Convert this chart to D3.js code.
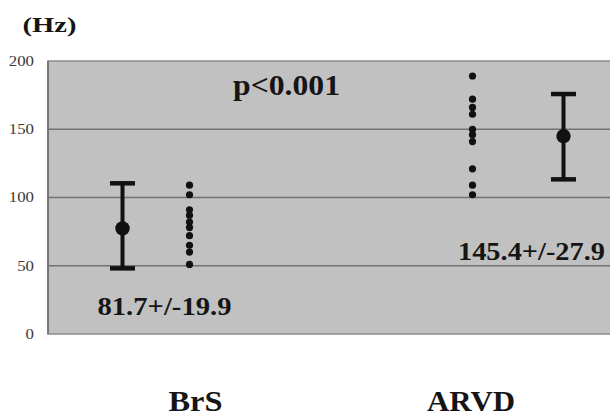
<!DOCTYPE html>
<html>
<head>
<meta charset="utf-8">
<script src="https://cdn.jsdelivr.net/npm/d3@7"></script>
<style>
  body { margin: 0; background: #fff; }
  svg { display: block; }
  text { font-family: "Liberation Serif", "Times New Roman", serif; }
</style>
</head>
<body>
<div id="chart-area"></div>
<script>
// data
const groups = ["BrS", "ARVD"];
const brsPoints = [109, 102, 91, 87, 82, 78, 72, 65, 60, 51];
const arvdPoints = [189, 172, 166, 161, 150, 146, 141, 121, 109, 102];
const means = [77.4, 145];
const lows = [48.1, 113.3];
const highs = [110.4, 175.8];
const meanLabels = ["81.7+/-19.9", "145.4+/-27.9"];
const yTicks = [0, 50, 100, 150, 200];
const pLabel = "p<0.001";
const unitLabel = "(Hz)";

let w = 610;
let h = 416;
let plotLeft = 48;
let plotTop = 61;
let plotBottom = 334;
let plotRight = 618;

let svg = d3.select("#chart-area")
    .append("svg")
    .attr("width", w)
    .attr("height", h);

let xScale = d3.scalePoint()
    .domain(groups)
    .range([plotLeft, 614])
    .padding(0.5);

let yScale = d3.scaleLinear()
    .domain([0, 200])
    .range([plotBottom, plotTop]);

// error bar sits left of the dots for BrS, right for ARVD
let barOffset = [-67, 91];

// plot background
svg.append("rect")
    .attr("x", plotLeft)
    .attr("y", plotTop)
    .attr("width", plotRight - plotLeft)
    .attr("height", plotBottom - plotTop)
    .attr("fill", "#c1c1c1")
    .attr("stroke", "#8c8c8c")
    .attr("stroke-width", 1.5);

svg.append("line")
    .attr("x1", plotLeft).attr("x2", plotLeft)
    .attr("y1", plotTop).attr("y2", plotBottom)
    .attr("stroke", "#6a6a6a")
    .attr("stroke-width", 1.5);

// grid lines
svg.selectAll(".grid")
    .data(yTicks.filter(d => d > 0 && d < 200))
    .enter()
    .append("line")
    .attr("class", "grid")
    .attr("x1", plotLeft)
    .attr("x2", plotRight)
    .attr("y1", d => yScale(d))
    .attr("y2", d => yScale(d))
    .attr("stroke", "#727272")
    .attr("stroke-width", 1.5);

// y axis labels
let yAxis = d3.axisLeft(yScale)
    .tickValues(yTicks)
    .tickSize(0)
    .tickPadding(14);

let yg = svg.append("g")
    .attr("transform", "translate(" + plotLeft + ",0)")
    .call(yAxis);
yg.select(".domain").remove();
yg.selectAll("text")
    .attr("font-family", "Liberation Serif, serif")
    .attr("font-size", 14)
    .attr("fill", "#3a3a3a")
    .attr("textLength", d => String(d).length * 8.4)
    .attr("lengthAdjust", "spacingAndGlyphs");

// scatter dots
let allPoints = [];
brsPoints.forEach(v => allPoints.push({ g: "BrS", v: v }));
arvdPoints.forEach(v => allPoints.push({ g: "ARVD", v: v }));

svg.selectAll(".pt")
    .data(allPoints)
    .enter()
    .append("circle")
    .attr("class", "pt")
    .attr("cx", d => xScale(d.g))
    .attr("cy", d => yScale(d.v))
    .attr("r", 3.6)
    .attr("fill", "#111");

// error bars
let bars = groups.map((g, i) => ({ g: g, i: i, mean: means[i], lo: lows[i], hi: highs[i] }));

let eb = svg.selectAll(".eb")
    .data(bars)
    .enter()
    .append("g")
    .attr("class", "eb")
    .attr("transform", d => "translate(" + (xScale(d.g) + barOffset[d.i]) + ",0)");

eb.append("line")
    .attr("x1", 0).attr("x2", 0)
    .attr("y1", d => yScale(d.hi))
    .attr("y2", d => yScale(d.lo))
    .attr("stroke", "#111")
    .attr("stroke-width", 4);

eb.append("line")
    .attr("x1", -12.5).attr("x2", 12.5)
    .attr("y1", d => yScale(d.hi))
    .attr("y2", d => yScale(d.hi))
    .attr("stroke", "#111")
    .attr("stroke-width", 4.5);

eb.append("line")
    .attr("x1", -12.5).attr("x2", 12.5)
    .attr("y1", d => yScale(d.lo))
    .attr("y2", d => yScale(d.lo))
    .attr("stroke", "#111")
    .attr("stroke-width", 4.5);

eb.append("circle")
    .attr("cx", 0)
    .attr("cy", d => yScale(d.mean))
    .attr("r", 7.2)
    .attr("fill", "#111");

// mean +/- sd labels
let labelPos = [{ dx: -25, yv: 13.9, len: 134 }, { dx: 59, yv: 54.2, len: 147 }];
svg.selectAll(".ml")
    .data(meanLabels)
    .enter()
    .append("text")
    .attr("class", "ml")
    .attr("x", (d, i) => xScale(groups[i]) + labelPos[i].dx)
    .attr("y", (d, i) => yScale(labelPos[i].yv))
    .attr("text-anchor", "middle")
    .attr("font-size", 25)
    .attr("font-weight", "bold")
    .attr("fill", "#151515")
    .attr("textLength", (d, i) => labelPos[i].len)
    .attr("lengthAdjust", "spacingAndGlyphs")
    .text(d => d);

// p value
svg.append("text")
    .attr("x", 286.5)
    .attr("y", 95)
    .attr("text-anchor", "middle")
    .attr("font-size", 30)
    .attr("font-weight", "bold")
    .attr("fill", "#151515")
    .attr("textLength", 107)
    .attr("lengthAdjust", "spacingAndGlyphs")
    .text(pLabel);

// unit
svg.append("text")
    .attr("x", 22.5)
    .attr("y", 31.5)
    .attr("font-size", 22)
    .attr("font-weight", "bold")
    .attr("fill", "#151515")
    .attr("textLength", 54)
    .attr("lengthAdjust", "spacingAndGlyphs")
    .text(unitLabel);

// category labels
let catLen = [54, 88];
let catDx = [6, -1.5];
svg.selectAll(".cat")
    .data(groups)
    .enter()
    .append("text")
    .attr("class", "cat")
    .attr("x", (d, i) => xScale(d) + catDx[i])
    .attr("y", 411)
    .attr("text-anchor", "middle")
    .attr("font-size", 30)
    .attr("font-weight", "bold")
    .attr("fill", "#151515")
    .attr("textLength", (d, i) => catLen[i])
    .attr("lengthAdjust", "spacingAndGlyphs")
    .text(d => d);
</script>
</body>
</html>
